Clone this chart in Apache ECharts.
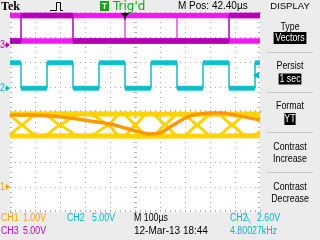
<!DOCTYPE html>
<html><head><meta charset="utf-8">
<script src="https://cdn.jsdelivr.net/npm/echarts@6/dist/echarts.min.js"></script>
<style>html,body{margin:0;padding:0;background:#ececec;overflow:hidden}#c{width:320px;height:240px}</style>
</head><body><div id="c"></div>
<script>
// ---------- data (time in µs from screen centre, 100 µs/div) ----------
const chScale = {ch1: 1, ch2: 5, ch3: 5};          // V/div
const chGround = {ch1: -3.0, ch2: 0.95, ch3: 2.68}; // channel position (div)
const triggerTime = -40;   // µs
const triggerLevel = 2.60; // V on CH2

// CH2: square wave, level held from each time to the next
const ch2Time = [-500,-456,-352,-248,-144,-40,64,168,272,376,480,500];
const ch2Volt = [5.1,0,5.1,0,5.1,0,5.1,0,5.1,0,5.1,5.1];

// CH3: persisted levels, persisted edges and latest acquisition
const ch3LevelTime = [-500,500];
const ch3High = [5.9,5.9];
const ch3Low  = [0.8,0.8];
const ch3PersistTime = [-500,-40,168,500];
const ch3PersistVolt = [5.9,0.8,5.9,5.9];
const ch3LatestTime = [-500,-456,-248,376,500];
const ch3LatestVolt = [0.8,5.9,0.8,5.9,5.9];

// CH1: persisted envelope and two persisted traces
const ch1EnvTime = [-500,-250,0,250,500];
const ch1EnvHigh = [2.92,2.93,2.92,2.91,2.92];
const ch1EnvLow  = [2.04,2.05,2.03,2.04,2.05];
const ch1PersistTime = [-500,-452,-376,-300,-204,-108,-54,0,60,120,184,248,318,388,458,500];
const ch1TraceA = [2.90,2.48,2.05,2.48,2.92,2.48,2.04,2.48,2.93,2.48,2.04,2.48,2.92,2.48,2.05,2.22];
const ch1TraceB = [2.06,2.48,2.91,2.48,2.04,2.48,2.92,2.48,2.03,2.48,2.92,2.48,2.04,2.48,2.91,2.74];
// CH1 latest acquisition
const ch1LatestTime = [-500,-420,-340,-260,-180,-100,-40,20,60,100,140,180,220,260,300,340,400,460,500];
const ch1LatestVolt = [2.88,2.88,2.84,2.76,2.64,2.52,2.36,2.20,2.12,2.16,2.40,2.64,2.84,2.92,2.96,2.96,2.88,2.76,2.68];

// ---------- helpers ----------
function toDiv(v, ch) { return v / chScale[ch] + chGround[ch]; }
function pts(times, volts, ch) { return times.map((t, i) => [t, toDiv(volts[i], ch)]); }
function bands(times, volts, ch) {
  const out = [];
  for (let i = 0; i < times.length - 1; i++) {
    const d = toDiv(volts[i], ch);
    out.push([times[i], d], [times[i + 1], d], [times[i + 1], '-']);
  }
  return out;
}

const chart = echarts.init(document.getElementById('c'), null, {renderer: 'canvas', width: 320, height: 240});
const FONT = "'Liberation Sans',Arial,sans-serif";
const tickCol = '#b0b0b0', gridCol = '#a4a4a4';
const C1 = '#f5a300', C2 = '#00b8c8', C3 = '#c000c0';

function xa(pos, inside, len, onZero, split) {
  return {type: 'value', min: -500, max: 500, interval: 100, position: pos,
    axisLabel: {show: false},
    axisLine: {show: false, onZero: onZero, onZeroAxisIndex: 0},
    axisTick: {show: true, inside: inside, length: len, lineStyle: {color: tickCol}},
    minorTick: {show: true, splitNumber: 5, length: len, lineStyle: {color: tickCol}},
    splitLine: {show: split, showMinLine: false, showMaxLine: false, lineStyle: {color: gridCol, type: [1, 4], width: 1}}};
}
function ya(pos, inside, len, onZero, split) {
  return {type: 'value', min: -4, max: 4, interval: 1, position: pos,
    axisLabel: {show: false},
    axisLine: {show: false, onZero: onZero, onZeroAxisIndex: 0},
    axisTick: {show: true, inside: inside, length: len, lineStyle: {color: tickCol}},
    minorTick: {show: true, splitNumber: 5, length: len, lineStyle: {color: tickCol}},
    splitLine: {show: split, showMinLine: false, showMaxLine: false, lineStyle: {color: gridCol, type: [1, 4], width: 1}}};
}

const base = {type: 'line', xAxisIndex: 0, yAxisIndex: 0, symbol: 'none', showSymbol: false, silent: true, animation: false, connectNulls: false};
function S(o) { return Object.assign({}, base, o); }

chart.setOption({
  animation: false,
  backgroundColor: '#ececec',
  grid: {left: 10, top: 12, width: 250, height: 200, show: true, backgroundColor: '#ffffff', borderWidth: 0},
  xAxis: [xa('bottom', true, 2, false, true), xa('top', true, 2, false, false), xa('bottom', true, 2, true, false), xa('bottom', false, 1, true, false)],
  yAxis: [ya('left', true, 2, false, true), ya('right', true, 2, false, false), ya('left', true, 2, true, false), ya('left', false, 1, true, false)],
  series: [
    S({name: 'CH1 env high', data: pts(ch1EnvTime, ch1EnvHigh, 'ch1'), lineStyle: {color: '#ffd400', width: 5}}),
    S({name: 'CH1 env low', data: pts(ch1EnvTime, ch1EnvLow, 'ch1'), lineStyle: {color: '#ffd400', width: 5}}),
    S({name: 'CH1 A', smooth: 0.5, data: pts(ch1PersistTime, ch1TraceA, 'ch1'), lineStyle: {color: '#ffd000', width: 3}}),
    S({name: 'CH1 B', smooth: 0.5, data: pts(ch1PersistTime, ch1TraceB, 'ch1'), lineStyle: {color: '#f8d400', width: 3}}),
    S({name: 'CH1 latest', smooth: 0.4, data: pts(ch1LatestTime, ch1LatestVolt, 'ch1'), lineStyle: {color: '#ff9800', width: 3.5}}),
    S({name: 'CH2 band', data: bands(ch2Time, ch2Volt, 'ch2'), lineStyle: {color: '#10c4d0', width: 5}}),
    S({name: 'CH2', step: 'end', data: pts(ch2Time, ch2Volt, 'ch2'), lineStyle: {color: '#10b8c8', width: 1.5}}),
    S({name: 'CH3 high', data: pts(ch3LevelTime, ch3High, 'ch3'), lineStyle: {color: '#f418f4', width: 5.5}}),
    S({name: 'CH3 low', data: pts(ch3LevelTime, ch3Low, 'ch3'), lineStyle: {color: '#f418f4', width: 5.5}}),
    S({name: 'CH3 persist', step: 'end', data: pts(ch3PersistTime, ch3PersistVolt, 'ch3'), lineStyle: {color: '#e020e0', width: 1.2}}),
    S({name: 'CH3 latest band', data: bands(ch3LatestTime, ch3LatestVolt, 'ch3'), lineStyle: {color: '#b400b4', width: 5.5}}),
    S({name: 'CH3 latest', step: 'end', data: pts(ch3LatestTime, ch3LatestVolt, 'ch3'), lineStyle: {color: '#b000b0', width: 1.5}})
  ]
});

// ---------- screen decorations ----------
const P = (t, d) => chart.convertToPixel({xAxisIndex: 0, yAxisIndex: 0}, [t, d]);
const g = [];
function txt(s, x, y, col, font, extra, sx) {
  g.push({type: 'text', x: x, y: y, scaleX: sx || 1, silent: true, z: 10,
    style: Object.assign({text: s, fill: col, font: font, align: 'left', verticalAlign: 'middle'}, extra || {})});
}
const F10 = '10px ' + FONT;
const FM = '10.5px ' + FONT;
const MS = 0.84;

// top bar
txt('Tek', 1, 6.5, '#000', "bold 12px 'Liberation Serif',serif");
g.push({type: 'polyline', silent: true, shape: {points: [[50, 10.5], [56.5, 10.5], [56.5, 2.5], [60.5, 2.5], [60.5, 10.5], [63, 10.5]]}, style: {stroke: '#000', lineWidth: 1, fill: null}});
g.push({type: 'rect', silent: true, shape: {x: 100, y: 1, width: 9, height: 10}, style: {fill: '#10a810'}});
txt('T', 104.5, 6.5, '#fff', "bold 9px 'Liberation Sans',sans-serif", {align: 'center'});
txt("Trig'd", 113, 6.5, '#10a810', "12px 'DejaVu Sans',sans-serif");
txt('M Pos: 42.40µs', 178, 6.5, '#000', F10);
txt('DISPLAY', 290, 6.5, '#000', '9.5px ' + FONT, {align: 'center'});

// menu
const menuX = 290;
txt('Type', menuX, 27, '#000', FM, {align: 'center'}, MS);
txt('Vectors', menuX, 38, '#fff', FM, {align: 'center', backgroundColor: '#000', padding: [1, 2, 0, 2]}, MS);
txt('Persist', menuX, 66, '#000', FM, {align: 'center'}, MS);
txt('1 sec', menuX, 79, '#fff', FM, {align: 'center', backgroundColor: '#000', padding: [0, 1, 0, 1]}, MS);
txt('Format', menuX, 106, '#000', FM, {align: 'center'}, MS);
txt('YT', menuX, 119, '#fff', FM, {align: 'center', backgroundColor: '#000', padding: [1, 0, 0, 0]}, MS);
txt('Contrast', menuX, 147, '#000', FM, {align: 'center'}, MS);
txt('Increase', menuX, 159, '#000', FM, {align: 'center'}, MS);
txt('Contrast', menuX, 187, '#000', FM, {align: 'center'}, MS);
txt('Decrease', menuX, 199, '#000', FM, {align: 'center'}, MS);
[52, 92, 132, 172].forEach(y => g.push({type: 'line', silent: true, shape: {x1: 267, y1: y + 0.5, x2: 313, y2: y + 0.5}, style: {stroke: '#c4c4c4', lineWidth: 1}}));

// bottom readouts
const RS = 0.88;
txt('CH1', 1, 218.5, C1, F10, null, RS); txt('1.00V', 23, 218.5, C1, F10, null, RS);
txt('CH2', 67, 218.5, C2, F10, null, RS); txt('5.00V', 92, 218.5, C2, F10, null, RS);
txt('M 100µs', 134, 218.5, '#000', F10, null, RS);
txt('CH2', 230, 218.5, C2, F10, null, RS); txt('\u2572', 245, 218.5, C2, "9px 'DejaVu Sans',sans-serif"); txt('2.60V', 257, 218.5, C2, F10, null, RS);
txt('CH3', 1, 231.5, C3, F10, null, RS); txt('5.00V', 23, 231.5, C3, F10, null, RS);
txt('12-Mar-13 18:44', 134, 231.5, '#000', F10);
txt('4.80027kHz', 230, 231.5, C2, F10, null, RS);

// channel ground markers
[['1', 'ch1', C1], ['2', 'ch2', C2], ['3', 'ch3', C3]].forEach(function (m) {
  const y = P(-500, chGround[m[1]])[1];
  txt(m[0], 0, y, m[2], F10, null, 0.9);
  g.push({type: 'polygon', silent: true, shape: {points: [[6, y - 3], [10, y], [6, y + 3]]}, style: {fill: m[2]}});
  g.push({type: 'line', silent: true, shape: {x1: 5, y1: y, x2: 9, y2: y}, style: {stroke: m[2], lineWidth: 1.5}});
});
// trigger position marker
const tp = P(triggerTime, 4);
g.push({type: 'polygon', silent: true, z: 11, shape: {points: [[tp[0] - 4, tp[1] + 1], [tp[0] + 4, tp[1] + 1], [tp[0], tp[1] + 6]]}, style: {fill: '#000'}});
g.push({type: 'line', silent: true, z: 11, shape: {x1: tp[0], y1: tp[1], x2: tp[0], y2: tp[1] + 8}, style: {stroke: '#000', lineWidth: 1}});
// trigger level marker
const tl = P(500, toDiv(triggerLevel, 'ch2'));
g.push({type: 'polygon', silent: true, z: 11, shape: {points: [[tl[0] - 7, tl[1]], [tl[0] - 1, tl[1] - 3.5], [tl[0] - 1, tl[1] + 3.5]]}, style: {fill: C2}});

chart.setOption({graphic: g});
</script>
</body></html>
